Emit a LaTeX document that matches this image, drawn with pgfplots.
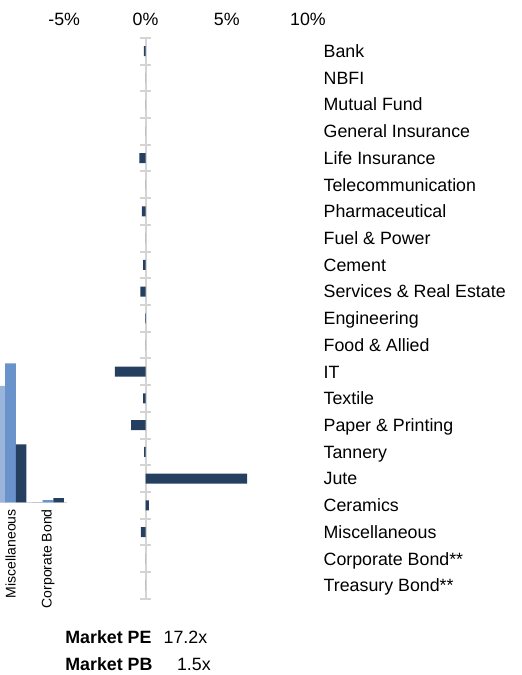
\documentclass[border=0pt]{standalone}
\usepackage{pgfplots}
\pgfplotsset{compat=1.18}
\usepackage{fontspec}
\setmainfont{Liberation Sans}
\definecolor{navy}{HTML}{243F60}
\definecolor{midblue}{HTML}{6A93CC}
\definecolor{lightblue}{HTML}{9AB5D9}
\definecolor{axgray}{HTML}{D4D4D4}
\newcommand{\lbl}{\fontsize{8.9}{10}\selectfont}
\begin{document}
\begin{tikzpicture}
\path[use as bounding box] (0,0) rectangle (261pt,-337.5pt);

% fragment of neighbouring chart (cut by the left edge)
\begin{axis}[
  at={(-4.125pt,-251.15pt)}, anchor=south west,
  scale only axis, width=37.5pt, height=73.5pt,
  xmin=-0.5, xmax=1.5, ymin=0, ymax=10.5,
  ybar=0pt, bar width=5.33pt,
  axis x line*=bottom, axis y line=none,
  x axis line style={axgray, line width=0.6pt},
  xtick={0,1}, xticklabels={Miscellaneous, Corporate Bond},
  xtick style={draw=none}, major tick length=0pt,
  xticklabel style={rotate=90, anchor=east, font=\fontsize{7}{8}\selectfont},
]
\addplot[fill=lightblue, draw=none] coordinates {(0,8.31) (1,0.02)};
\addplot[fill=midblue, draw=none] coordinates {(0,9.93) (1,0.16)};
\addplot[fill=navy, draw=none] coordinates {(0,4.14) (1,0.29)};
\end{axis}

% zero line with category separators
\begin{axis}[
  at={(32.125pt,-18.9pt)}, anchor=north west,
  scale only axis, width=121.875pt, height=280.5pt,
  xmin=-5, xmax=10, ymin=-0.5, ymax=20.5, y dir=reverse,
  axis x line=none, axis y line*=center,
  y axis line style={axgray, line width=1pt},
  ytick={-0.5,0.5,...,20.5}, yticklabels={},
  tick align=center, major tick length=5.5pt,
  ytick style={axgray, line width=1pt},
]
\end{axis}

% data
\begin{axis}[
  at={(32.125pt,-18.9pt)}, anchor=north west,
  scale only axis, width=121.875pt, height=280.5pt,
  xmin=-5, xmax=10, ymin=-0.5, ymax=20.5, y dir=reverse,
  xbar, bar width=5pt,
  axis line style={draw=none}, tick style={draw=none}, major tick length=0pt,
  xtick={-5,0,5,10}, xticklabels={-5\%,0\%,5\%,10\%}, xticklabel pos=top,
  xticklabel style={yshift=2.6pt},
  ytick={0,...,20},
  yticklabels={Bank, NBFI, Mutual Fund, General Insurance, Life Insurance,
    Telecommunication, Pharmaceutical, Fuel \& Power, Cement,
    Services \& Real Estate, Engineering, Food \& Allied, IT, Textile,
    Paper \& Printing, Tannery, Jute, Ceramics, Miscellaneous,
    Corporate Bond**, Treasury Bond**},
  yticklabel pos=right,
  yticklabel style={anchor=west, xshift=4.3pt, text height=6.4pt, text depth=0pt},
  tick label style={font=\lbl},
]
\addplot[fill=navy, draw=none] coordinates {
  (-0.10,0) (0,1) (0,2) (0,3) (-0.38,4) (0,5) (-0.22,6) (0,7) (-0.15,8)
  (-0.32,9) (-0.03,10) (0.01,11) (-1.88,12) (-0.14,13) (-0.89,14) (-0.09,15)
  (6.25,16) (0.20,17) (-0.28,18) (0,19) (0,20)};
\end{axis}

\node[anchor=base west, inner sep=0, font=\bfseries\lbl] at (32.5pt,-321.65pt) {Market PE};
\node[anchor=base west, inner sep=0, font=\lbl] at (81.65pt,-321.65pt) {17.2x};
\node[anchor=base west, inner sep=0, font=\bfseries\lbl] at (32.5pt,-335.15pt) {Market PB};
\node[anchor=base west, inner sep=0, font=\lbl] at (88.35pt,-335.15pt) {1.5x};
\end{tikzpicture}
\end{document}
